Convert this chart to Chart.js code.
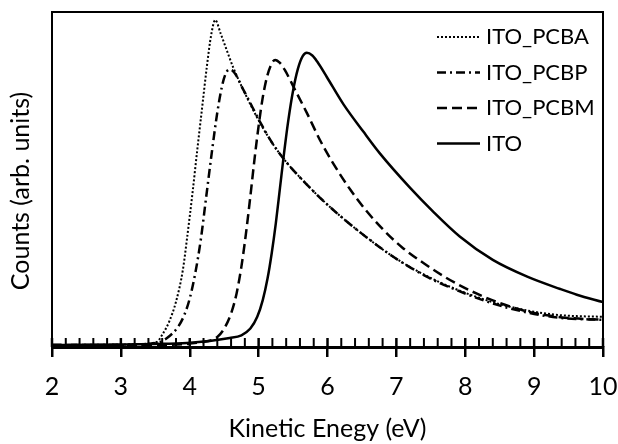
<!DOCTYPE html>
<html>
<head>
<meta charset="utf-8">
<title>Counts vs kinetic energy</title>
<script src="https://cdn.jsdelivr.net/npm/chart.js@4.4.1/dist/chart.umd.min.js"></script>
<style>
html, body { margin: 0; padding: 0; background: #fff; }
#wrap { position: relative; width: 618px; height: 444px; }
</style>
</head>
<body>
<div id="wrap"><canvas id="secoChart"></canvas></div>
<script>
// axis ticks (eV) and legend names
const energyTicks = [2, 3, 4, 5, 6, 7, 8, 9, 10];
const seriesNames = ['ITO_PCBA', 'ITO_PCBP', 'ITO_PCBM', 'ITO'];

// counts in arbitrary units (0..100 = axis to top frame)
const pcbaEnergy = [2.0, 2.7, 3.28, 3.52, 3.61, 3.7, 3.8, 3.9, 3.97, 4.04, 4.11, 4.18, 4.25, 4.31, 4.37, 4.45, 4.53, 4.63, 4.83, 5.02, 5.21, 5.41, 5.7, 5.93, 6.14, 6.47, 6.95, 7.44, 7.92, 8.4, 8.9, 9.38, 10.0];
const pcbaCounts = [0.6, 0.6, 0.9, 1.5, 4.0, 7.5, 13.5, 23.0, 34.0, 46.0, 59.0, 71.5, 84.0, 93.0, 97.6, 93.5, 89.0, 83.5, 74.5, 66.9, 60.5, 55.0, 48.5, 43.8, 39.9, 34.3, 27.0, 21.2, 16.8, 13.4, 10.9, 9.5, 9.0];

const pcbpEnergy = [2.0, 2.99, 3.52, 3.67, 3.83, 3.92, 4.0, 4.08, 4.16, 4.24, 4.32, 4.4, 4.47, 4.52, 4.57, 4.62, 4.69, 4.76, 4.83, 5.02, 5.21, 5.41, 5.7, 5.93, 6.14, 6.47, 6.95, 7.44, 7.92, 8.4, 8.9, 9.38, 10.0];
const pcbpCounts = [0.6, 0.6, 1.2, 2.7, 6.0, 9.5, 14.5, 22.0, 32.0, 45.0, 58.0, 70.0, 78.0, 81.5, 82.8, 82.5, 80.5, 77.5, 74.8, 67.2, 60.5, 55.0, 48.5, 43.8, 39.9, 34.3, 27.0, 21.0, 16.6, 13.0, 10.3, 8.7, 8.1];

const pcbmEnergy = [2.0, 3.42, 4.19, 4.4, 4.5, 4.6, 4.68, 4.75, 4.82, 4.88, 4.94, 5.0, 5.06, 5.12, 5.18, 5.24, 5.31, 5.38, 5.53, 5.7, 5.89, 6.08, 6.33, 6.57, 6.82, 7.08, 7.44, 7.68, 7.92, 8.17, 8.4, 8.65, 8.9, 9.38, 10.0];
const pcbmCounts = [0.6, 0.6, 1.5, 3.0, 5.5, 10.0, 16.0, 24.0, 34.5, 45.0, 56.0, 66.0, 74.5, 80.5, 84.2, 85.7, 84.8, 82.7, 76.7, 69.9, 61.8, 54.9, 47.0, 40.5, 34.8, 29.8, 24.4, 21.2, 18.4, 15.9, 13.9, 12.1, 10.6, 8.9, 8.1];

const itoEnergy = [2.0, 3.47, 3.96, 4.58, 4.75, 4.88, 4.98, 5.06, 5.13, 5.19, 5.25, 5.31, 5.37, 5.43, 5.5, 5.57, 5.64, 5.7, 5.78, 5.85, 5.99, 6.23, 6.52, 6.76, 7.2, 7.53, 7.92, 8.4, 8.9, 9.38, 9.62, 10.0];
const itoCounts = [0.6, 0.9, 1.2, 2.7, 3.5, 5.5, 9.0, 14.0, 20.5, 28.0, 37.0, 47.5, 58.0, 67.5, 76.5, 83.0, 86.8, 87.8, 87.0, 85.2, 80.6, 72.5, 64.3, 57.8, 47.5, 40.5, 33.0, 26.0, 21.0, 17.3, 15.6, 13.4];

const FONT = 'Lato, "Open Sans", sans-serif';

function toPoints(xs, ys)
{
	return xs.map(function(x, i) { return {x: x, y: ys[i]}; });
}

function line(label, pts, width, dash)
{
	return {
		label: label,
		data: pts,
		borderColor: '#000',
		borderWidth: width,
		borderDash: dash,
		pointRadius: 0,
		fill: false,
		cubicInterpolationMode: 'monotone'
	};
}

// frame, inward minor ticks, y title and the boxed legend
const decorations = {
	id: 'decorations',
	afterDatasetsDraw: function(chart)
	{
		let ctx = chart.ctx;
		let area = chart.chartArea;
		let xs = chart.scales.x;

		ctx.save();
		ctx.strokeStyle = '#000';
		ctx.lineWidth = 2;
		ctx.beginPath();
		ctx.moveTo(area.left, area.top);
		ctx.lineTo(area.right, area.top);
		ctx.lineTo(area.right, area.bottom);
		ctx.stroke();

		for (let i = 0; i <= 40; i++)
		{
			let px = xs.getPixelForValue(2 + i * 0.2);
			ctx.lineWidth = (i % 5 === 0) ? 2.5 : 2;
			ctx.beginPath();
			ctx.moveTo(px, area.bottom - 9);
			ctx.lineTo(px, area.bottom);
			ctx.stroke();
		}

		ctx.fillStyle = '#000';
		ctx.font = '25px ' + FONT;
		ctx.textAlign = 'center';
		ctx.textBaseline = 'middle';
		ctx.translate(21, 191);
		ctx.rotate(-Math.PI / 2);
		ctx.fillText('Counts (arb. units)', 0, 0);
		ctx.restore();

		ctx.save();
		ctx.font = '22px ' + FONT;
		ctx.textBaseline = 'middle';
		ctx.fillStyle = '#000';
		chart.data.datasets.forEach(function(ds, i)
		{
			let y = 37 + i * 35.5;
			ctx.strokeStyle = '#000';
			ctx.lineWidth = ds.borderWidth;
			ctx.setLineDash(ds.borderDash || []);
			ctx.beginPath();
			ctx.moveTo(437, y);
			ctx.lineTo(480, y);
			ctx.stroke();
			ctx.setLineDash([]);
			ctx.fillText(ds.label, 486, y);
		});
		ctx.restore();
	}
};

let ctx = document.getElementById('secoChart').getContext('2d');
let secoChart = new Chart(ctx, {
	type: 'line',
	data: {
		datasets: [
			line(seriesNames[0], toPoints(pcbaEnergy, pcbaCounts), 2, [2, 2]),
			line(seriesNames[1], toPoints(pcbpEnergy, pcbpCounts), 2.5, [9, 4, 2, 4]),
			line(seriesNames[2], toPoints(pcbmEnergy, pcbmCounts), 2.5, [10, 5]),
			line(seriesNames[3], toPoints(itoEnergy, itoCounts), 2.5, [])
		]
	},
	options: {
		responsive: true,
		maintainAspectRatio: false,
		animation: false,
		events: [],
		layout: {
			padding: {top: 12, right: 0, left: 0, bottom: 0}
		},
		plugins: {
			legend: {display: false},
			tooltip: {enabled: false}
		},
		scales: {
			x: {
				type: 'linear',
				min: energyTicks[0],
				max: energyTicks[energyTicks.length - 1],
				afterFit: function(scale)
				{
					// fixed plot box: bottom at 347, right edge at 603
					scale.height = 97;
					scale.paddingLeft = 0;
					scale.paddingRight = 15;
				},
				afterBuildTicks: function(scale)
				{
					scale.ticks = energyTicks.map(function(v) { return {value: v}; });
				},
				ticks: {
					color: '#000',
					font: {family: FONT, size: 25},
					padding: 15,
					maxRotation: 0,
					autoSkip: false
				},
				grid: {
					display: true,
					drawOnChartArea: false,
					drawTicks: true,
					tickLength: 10,
					color: '#000',
					lineWidth: 2.5
				},
				border: {display: true, color: '#000', width: 3},
				title: {
					display: true,
					text: 'Kinetic Enegy (eV)',
					color: '#000',
					font: {family: FONT, size: 25},
					padding: {top: 0, bottom: 0}
				}
			},
			y: {
				min: 0,
				max: 100,
				afterFit: function(scale) { scale.width = 52; },
				ticks: {display: false},
				grid: {display: false},
				border: {display: true, color: '#000', width: 2}
			}
		}
	},
	plugins: [decorations]
});
</script>
</body>
</html>
